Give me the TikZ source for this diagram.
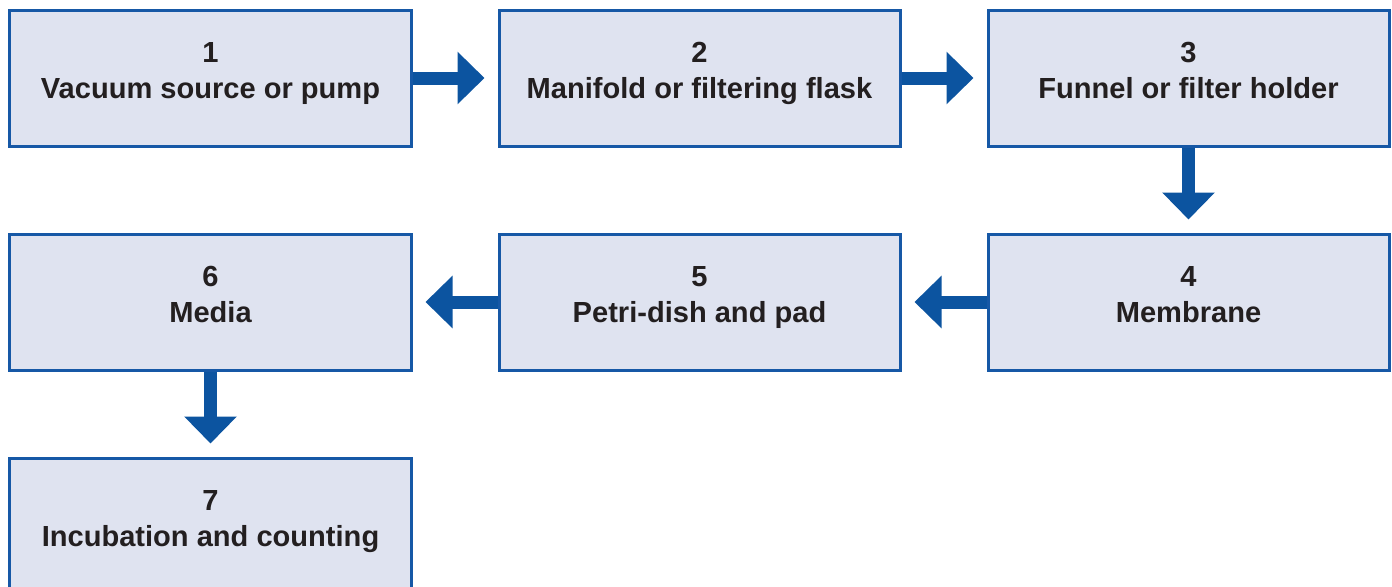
\documentclass[tikz,border=0pt]{standalone}
\usepackage{fontspec}
\setmainfont{Liberation Sans}
\usetikzlibrary{arrows.meta,positioning}
\definecolor{boxblue}{RGB}{22,88,166}
\definecolor{arrowblue}{RGB}{12,84,160}
\definecolor{boxfill}{RGB}{223,227,240}
\definecolor{txtdark}{RGB}{35,31,32}
\tikzset{
stepbox/.style = {draw=boxblue, fill=boxfill, rectangle, line width=2.25pt,
  minimum width=300.75pt, minimum height=102pt, align=center,
  font=\bfseries\fontsize{21.8}{27}\selectfont, text=txtdark,
  text height=37.5pt, text depth=7.5pt},
flow/.style = {draw=arrowblue, line width=9.75pt,
  -{Triangle[length=20.25pt, width=38.25pt]}, shorten >=9.75pt}
}

\begin{document}
\begin{tikzpicture}[node distance=63.75pt]
  \useasboundingbox (-157.875pt,58.5pt) rectangle (886.125pt,-381pt);
  \node [stepbox]                  (pump)     {1\\Vacuum source or pump};
  \node [stepbox, right=of pump]   (flask)    {2\\Manifold or filtering flask};
  \node [stepbox, right=of flask]  (funnel)   {3\\Funnel or filter holder};
  \node [stepbox, below=of funnel] (membrane) {4\\Membrane};
  \node [stepbox, left=of membrane](dish)     {5\\Petri-dish and pad};
  \node [stepbox, left=of dish]    (media)    {6\\Media};
  \node [stepbox, below=of media]  (count)    {7\\Incubation and counting};

  \draw [flow] (pump) -- (flask);
  \draw [flow] (flask) -- (funnel);
  \draw [flow] (funnel) -- (membrane);
  \draw [flow] (membrane) -- (dish);
  \draw [flow] (dish) -- (media);
  \draw [flow] (media) -- (count);
\end{tikzpicture}
\end{document}
